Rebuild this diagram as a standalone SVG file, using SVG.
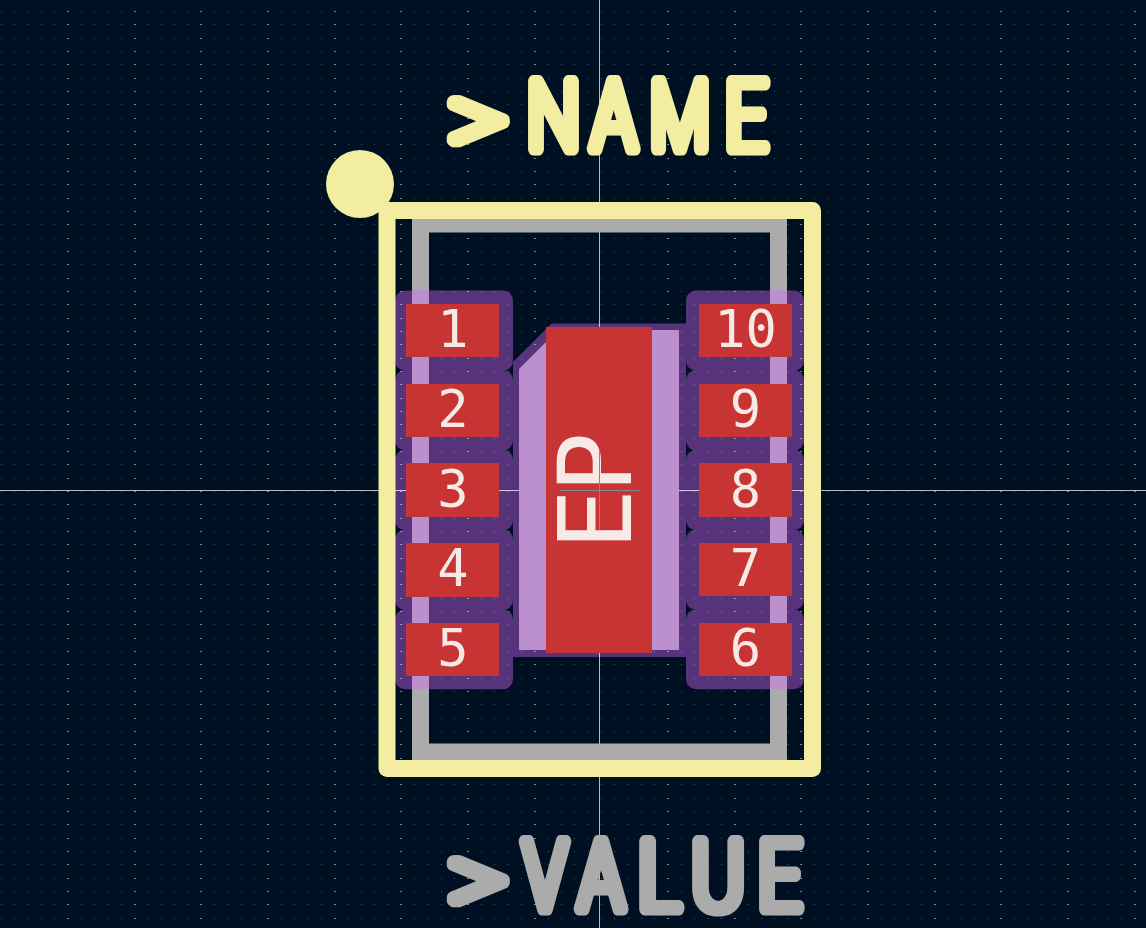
<svg xmlns="http://www.w3.org/2000/svg" width="1146" height="928" viewBox="0 0 1146 928">
<style>
.num{font-family:"DejaVu Sans Mono",monospace;font-size:52px;fill:#f6e9e6;text-anchor:middle}
.big{font-family:"Roboto",sans-serif;font-weight:100;font-size:94px;stroke-width:13px;stroke-linejoin:round;stroke-linecap:round}
.nm{fill:#f2eda1;stroke:#f2eda1}
.vl{fill:#ababab;stroke:#ababab}
.mask{fill:#56337a}
.pad{fill:#c83434}
.lav{fill:#bc8fcd}
.dots{fill:none;stroke:#fff;shape-rendering:crispEdges;stroke-dasharray:1 12.333}
</style>
<defs>
<filter id="widen" filterUnits="userSpaceOnUse" x="400" y="50" width="450" height="878" color-interpolation-filters="sRGB"><feMorphology operator="dilate" radius="2 0"/></filter>
</defs>
<rect width="1146" height="928" fill="#001023"/>
<g id="mask">
<path class="mask" d="M551.500 323.500H686V657H513V362Z"/>
<rect class="mask" x="395" y="290.500" width="118" height="80.300" rx="10"/><rect class="mask" x="395" y="370" width="118" height="80.500" rx="10"/><rect class="mask" x="395" y="449.800" width="118" height="80.500" rx="10"/><rect class="mask" x="395" y="529.500" width="118" height="80.500" rx="10"/><rect class="mask" x="395" y="609.300" width="118" height="80" rx="10"/>
<rect class="mask" x="686" y="290.500" width="118" height="80.300" rx="10"/><rect class="mask" x="686" y="370" width="118" height="80.500" rx="10"/><rect class="mask" x="686" y="449.800" width="118" height="80.500" rx="10"/><rect class="mask" x="686" y="529.500" width="118" height="80.500" rx="10"/><rect class="mask" x="686" y="609.300" width="118" height="80" rx="10"/>
</g>
<g id="grid">
<path class="dots" stroke-opacity=".32" d="M1 11.500H1146M1 24.500H1146M1 38.500H1146M1 51.500H1146M1 64.500H1146M1 78.500H1146M1 91.500H1146M1 104.500H1146M1 118.500H1146M1 131.500H1146M1 144.500H1146M1 158.500H1146M1 171.500H1146M1 184.500H1146M1 198.500H1146M1 211.500H1146M1 224.500H1146M1 238.500H1146M1 251.500H1146M1 264.500H1146M1 278.500H1146M1 291.500H1146M1 304.500H1146M1 318.500H1146M1 331.500H1146M1 344.500H1146M1 358.500H1146M1 371.500H1146M1 384.500H1146M1 398.500H1146M1 411.500H1146M1 424.500H1146M1 438.500H1146M1 451.500H1146M1 464.500H1146M1 478.500H1146M1 491.500H1146M1 504.500H1146M1 518.500H1146M1 531.500H1146M1 544.500H1146M1 558.500H1146M1 571.500H1146M1 584.500H1146M1 598.500H1146M1 611.500H1146M1 624.500H1146M1 638.500H1146M1 651.500H1146M1 664.500H1146M1 678.500H1146M1 691.500H1146M1 704.500H1146M1 718.500H1146M1 731.500H1146M1 744.500H1146M1 758.500H1146M1 771.500H1146M1 784.500H1146M1 798.500H1146M1 811.500H1146M1 824.500H1146M1 838.500H1146M1 851.500H1146M1 864.500H1146M1 878.500H1146M1 891.500H1146M1 904.500H1146M1 918.500H1146"/>
<path class="dots" stroke-width="2" stroke-opacity=".42" d="M67.500 11V928M134.500 11V928M200.500 11V928M267.500 11V928M334.500 11V928M400.500 11V928M467.500 11V928M534.500 11V928M667.500 11V928M734.500 11V928M800.500 11V928M867.500 11V928M934.500 11V928M1000.500 11V928M1067.500 11V928M1134.500 11V928"/>
</g>
<g id="connectors" stroke="#fff" stroke-opacity=".72" stroke-width="1">
<path d="M599.500 0V928M0 490.500H1146" fill="none"/>
</g>
<g id="fab">
<rect x="420.500" y="224" width="358" height="528" fill="none" stroke="#ababab" stroke-width="17"/>
<rect class="lav" x="412" y="290" width="17" height="399"/>
<rect class="lav" x="770" y="290" width="17" height="399"/>
<path class="lav" d="M519 369L558 330H679V650H519Z"/>
</g>
<g id="pad-EP">
<rect class="pad" x="546" y="327" width="106" height="326"/>
<text class="num" transform="translate(631 550) rotate(-90)" style="font-size:101.500px;text-anchor:start;letter-spacing:-4px">EP</text>
<path d="M559 490.500H639M599.500 450V530" stroke="#7f8a8a" stroke-width="1" fill="none"/>
</g>
<g id="pad-1"><rect class="pad" x="406" y="304" width="93" height="53"/><text class="num" x="453" y="347">1</text></g>
<g id="pad-2"><rect class="pad" x="406" y="384" width="93" height="53"/><text class="num" x="453" y="427">2</text></g>
<g id="pad-3"><rect class="pad" x="406" y="463" width="93" height="54"/><text class="num" x="453" y="507">3</text></g>
<g id="pad-4"><rect class="pad" x="406" y="543" width="93" height="54"/><text class="num" x="453" y="586">4</text></g>
<g id="pad-5"><rect class="pad" x="406" y="623" width="93" height="53"/><text class="num" x="453" y="666">5</text></g>
<g id="pad-10"><rect class="pad" x="699" y="304" width="93" height="53"/><text class="num" x="745.500" y="347">10</text></g>
<g id="pad-9"><rect class="pad" x="699" y="384" width="93" height="53"/><text class="num" x="745.500" y="427">9</text></g>
<g id="pad-8"><rect class="pad" x="699" y="463" width="93" height="54"/><text class="num" x="745.500" y="507">8</text></g>
<g id="pad-7"><rect class="pad" x="699" y="543" width="93" height="53"/><text class="num" x="745.500" y="586">7</text></g>
<g id="pad-6"><rect class="pad" x="699" y="623" width="93" height="53"/><text class="num" x="745.500" y="666">6</text></g>
<g id="silk">
<rect x="387" y="210.500" width="425.500" height="558" fill="none" stroke="#f2eda1" stroke-width="17" stroke-linejoin="round"/>
<circle cx="360" cy="184" r="34" fill="#f2eda1"/>
</g>
<g id="name-label" filter="url(#widen)">
<text class="big nm" transform="translate(450.300 153) scale(1.15 1.05)">&gt;</text>
<text class="big nm" transform="translate(527.900 149) scale(.766 1)">N</text>
<text class="big nm" transform="translate(592.400 149) scale(.757 1)">A</text>
<text class="big nm" transform="translate(650.900 149) scale(.718 1)">M</text>
<text class="big nm" transform="translate(725.900 149) scale(.755 1)">E</text>
</g>
<g id="value-label" filter="url(#widen)">
<text class="big vl" transform="translate(450.300 913) scale(1.15 1.05)">&gt;</text>
<text class="big vl" transform="translate(524.200 909) scale(.738 1)">V</text>
<text class="big vl" transform="translate(579.500 909) scale(.77 1)">A</text>
<text class="big vl" transform="translate(638.900 909) scale(.827 1)">L</text>
<text class="big vl" transform="translate(692.600 909) scale(.817 1)">U</text>
<text class="big vl" transform="translate(758.900 909) scale(.773 1)">E</text>
</g>
</svg>
